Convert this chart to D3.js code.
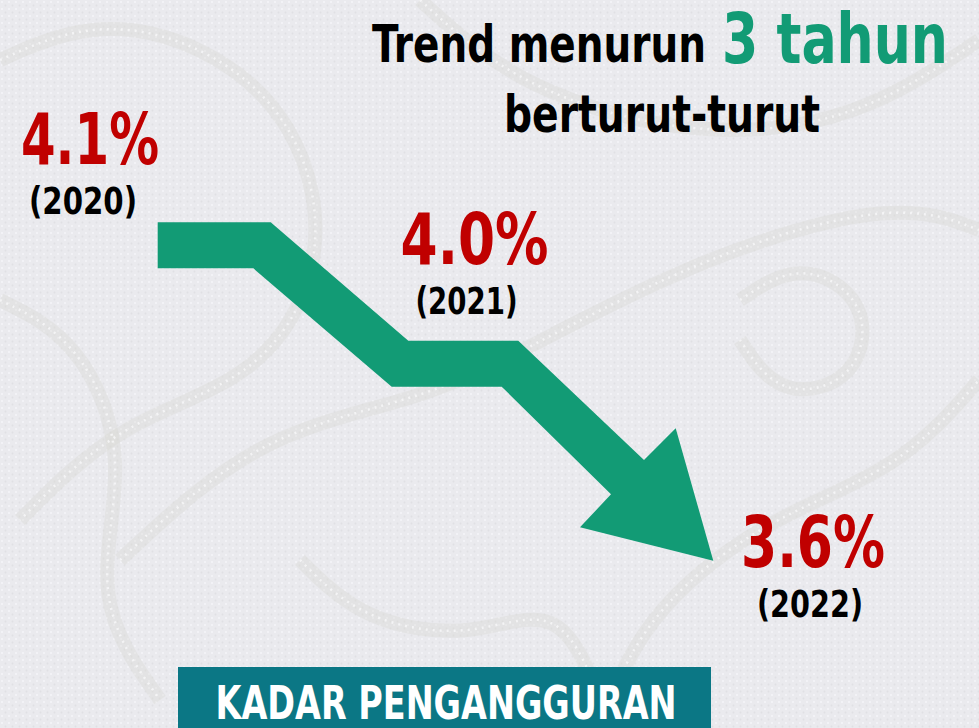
<!DOCTYPE html>
<html>
<head>
<meta charset="utf-8">
<script src="https://cdn.jsdelivr.net/npm/d3@7"></script>
<style>
  html, body { margin: 0; padding: 0; background: #ebebef; }
  svg { display: block; }
</style>
</head>
<body>
<div class="canva"></div>
<script>
// data
var years = ["2020", "2021", "2022"];
var rates = [4.1, 4.0, 3.6];
var titleParts = ["Trend menurun", "3 tahun", "berturut-turut"];
var footerLabel = "KADAR PENGANGGURAN";

const W = 979, H = 728;
const green = "#129b75", red = "#c00000", teal = "#0b7785";
const font = "'Liberation Sans Narrow', 'DejaVu Sans Condensed', 'Noto Sans', sans-serif";

const svg = d3.select(".canva").append("svg")
    .attr("width", W)
    .attr("height", H);

// background texture (batik-like, faint)
const defs = svg.append("defs");
const pat = defs.append("pattern")
    .attr("id", "dots")
    .attr("width", 7).attr("height", 7)
    .attr("patternUnits", "userSpaceOnUse");
pat.append("rect").attr("width", 7).attr("height", 7).attr("fill", "#eaeaee");
pat.append("circle").attr("cx", 2).attr("cy", 2).attr("r", 1.1).attr("fill", "#f5f5f8");
pat.append("circle").attr("cx", 5.5).attr("cy", 5.5).attr("r", 0.9).attr("fill", "#e0e0e4");

svg.append("rect").attr("width", W).attr("height", H).attr("fill", "url(#dots)");

// a few soft swirls for the batik feel
var swirls = [
    [[0, 60], [90, 20], [200, 40], [300, 120], [330, 260], [260, 380], [120, 420], [20, 520]],
    [[420, 0], [520, 90], [700, 140], [860, 120], [979, 40]],
    [[120, 560], [260, 430], [430, 400], [560, 330], [720, 250], [900, 200], [979, 230]],
    [[600, 728], [640, 620], [760, 520], [900, 470], [979, 380]],
    [[0, 300], [80, 340], [130, 460], [90, 600], [160, 700]],
    [[740, 300], [800, 260], [870, 300], [860, 380], [780, 400], [740, 340]],
    [[300, 560], [360, 620], [470, 640], [560, 600], [600, 700]]
];
const swirlLine = d3.line().curve(d3.curveBasis);
svg.append("g").selectAll("path")
    .data(swirls)
    .enter().append("path")
    .attr("d", swirlLine)
    .attr("fill", "none")
    .attr("stroke", "#d8d8d0")
    .attr("stroke-width", 14)
    .attr("stroke-opacity", 0.35);
svg.append("g").selectAll("path")
    .data(swirls)
    .enter().append("path")
    .attr("d", swirlLine)
    .attr("fill", "none")
    .attr("stroke", "#f7f7f9")
    .attr("stroke-width", 2.5)
    .attr("stroke-dasharray", "2 5")
    .attr("stroke-opacity", 0.8);

// arrow
var arrowShape = [
    [157.7, 222.3], [270.7, 222.3], [408.3, 340.7], [518.3, 340.7],
    [644, 460], [675.7, 428.3], [713.3, 560.7], [580, 527.3],
    [611, 494.3], [501.7, 386.7], [391.7, 386.7], [253.3, 268.3], [157.7, 268.3]
];
svg.append("path")
    .datum(arrowShape)
    .attr("d", d3.line().curve(d3.curveLinearClosed))
    .attr("fill", green);

// title
function fitText(sel, x, y, size, len, fill, txt) {
    return sel.append("text")
        .attr("x", x).attr("y", y)
        .attr("font-family", font)
        .attr("font-weight", "bold")
        .attr("font-size", size)
        .attr("fill", fill)
        .attr("textLength", len)
        .attr("lengthAdjust", "spacingAndGlyphs")
        .text(txt);
}
const title = svg.append("g");
fitText(title, 372, 62, 52, 334, "#000", titleParts[0]);
fitText(title, 722, 63, 70, 226, green, titleParts[1]);
fitText(title, 504, 132, 52, 316, "#000", titleParts[2]);

// labels
const xPos = d3.scaleOrdinal().domain(years).range([90, 474.5, 813]);
const yPos = d3.scaleOrdinal().domain(years).range([164, 264, 567]);
const valLen = d3.scaleOrdinal().domain(years).range([138, 148, 144]);
const yearLen = d3.scaleOrdinal().domain(years).range([108, 102, 106]);
const yearShift = d3.scaleOrdinal().domain(years).range([-7, -8, -3]);
const fmt = d3.format(".1f");

const labels = svg.append("g").selectAll("g")
    .data(years.map(function (d, i) { return { year: d, rate: rates[i] }; }))
    .enter().append("g");

labels.append("text")
    .attr("x", function (d) { return xPos(d.year); })
    .attr("y", function (d) { return yPos(d.year); })
    .attr("text-anchor", "middle")
    .attr("font-family", font)
    .attr("font-weight", "bold")
    .attr("font-size", 71)
    .attr("fill", red)
    .attr("textLength", function (d) { return valLen(d.year); })
    .attr("lengthAdjust", "spacingAndGlyphs")
    .text(function (d) { return fmt(d.rate) + "%"; });

labels.append("text")
    .attr("x", function (d) { return xPos(d.year) + yearShift(d.year); })
    .attr("y", function (d) { return yPos(d.year) + 50; })
    .attr("text-anchor", "middle")
    .attr("font-family", font)
    .attr("font-weight", "bold")
    .attr("font-size", 37)
    .attr("fill", "#000")
    .attr("textLength", function (d) { return yearLen(d.year); })
    .attr("lengthAdjust", "spacingAndGlyphs")
    .text(function (d) { return "(" + d.year + ")"; });

// footer box
svg.append("rect")
    .attr("x", 178).attr("y", 667)
    .attr("width", 533).attr("height", 70)
    .attr("fill", teal);
svg.append("text")
    .attr("x", 446).attr("y", 719)
    .attr("text-anchor", "middle")
    .attr("font-family", font)
    .attr("font-weight", "bold")
    .attr("font-size", 46)
    .attr("fill", "#fff")
    .attr("textLength", 461)
    .attr("lengthAdjust", "spacingAndGlyphs")
    .text(footerLabel);
</script>
</body>
</html>
